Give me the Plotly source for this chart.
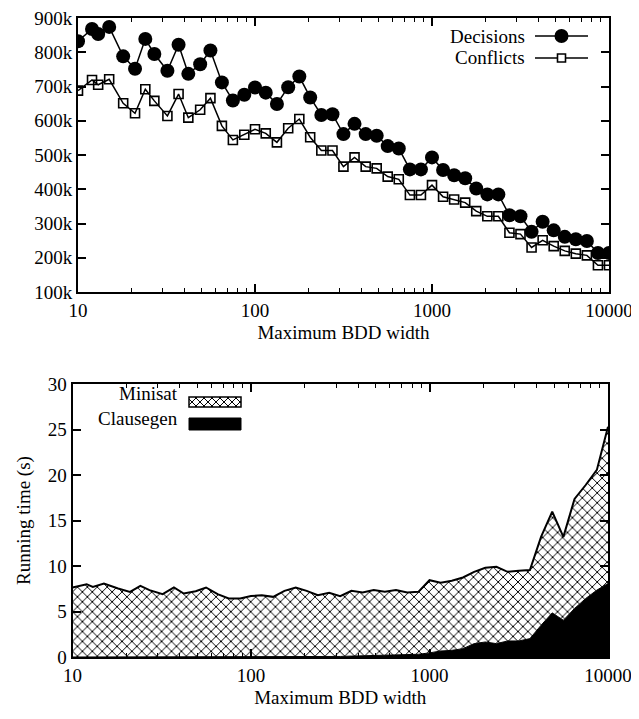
import plotly.graph_objects as go

# ---------------- data ----------------
widths = [10, 12, 13, 15, 18, 21, 24, 27, 32, 37, 42, 49, 56, 65, 75, 87,
          100, 115, 133, 154, 178, 205, 237, 274, 316, 365, 422, 487, 562, 649, 750, 866,
          1000, 1155, 1334, 1540, 1778, 2054, 2371, 2738, 3162, 3652, 4217, 4870, 5623, 6494, 7499, 8660,
          10000]

decisions_k = [832, 868, 853, 874, 788, 752, 839, 795, 746, 822, 737, 765, 805, 712, 659, 676,
               697, 682, 649, 698, 729, 668, 617, 619, 561, 591, 561, 556, 526, 519, 458, 458,
               493, 456, 441, 432, 402, 385, 385, 324, 321, 276, 305, 280, 261, 254, 249, 214,
               214]

conflicts_k = [688, 719, 705, 721, 651, 622, 692, 658, 614, 678, 609, 632, 666, 585, 544, 559,
               575, 563, 537, 578, 605, 552, 513, 513, 466, 493, 466, 461, 437, 429, 383, 383,
               412, 378, 370, 361, 336, 321, 321, 273, 269, 230, 251, 234, 220, 212, 207, 178,
               178]

total_time = [7.64, 8.0, 7.7, 8.08, 7.53, 7.16, 7.82, 7.35, 6.9, 7.64, 6.98, 7.23, 7.64, 6.9, 6.43, 6.43,
              6.7, 6.79, 6.61, 7.27, 7.64, 7.27, 6.79, 7.05, 6.68, 7.27, 7.09, 7.35, 7.16, 7.35, 7.09, 7.16,
              8.44, 8.17, 8.37, 8.74, 9.36, 9.8, 9.91, 9.36, 9.47, 9.55, 13.2, 15.97, 13.2, 17.37, 18.9, 20.56,
              25.3]

clausegen_time = [0.0, 0.0, 0.0, 0.0, 0.0, 0.0, 0.0, 0.0, 0.0, 0.0, 0.0, 0.0, 0.0, 0.0, 0.02, 0.02,
                  0.02, 0.02, 0.04, 0.04, 0.04, 0.04, 0.06, 0.06, 0.06, 0.1, 0.12, 0.15, 0.18, 0.22, 0.26, 0.3,
                  0.45, 0.66, 0.73, 0.92, 1.47, 1.65, 1.47, 1.76, 1.76, 2.02, 3.49, 4.85, 4.04, 5.33, 6.43, 7.35,
                  8.08]

top_yticks = [100000, 200000, 300000, 400000, 500000, 600000, 700000, 800000, 900000]
top_yticktext = ["100k", "200k", "300k", "400k", "500k", "600k", "700k", "800k", "900k"]
x_major = [10, 100, 1000, 10000]
x_major_text = ["10", "100", "1000", "10000"]
x_minor = [20, 30, 40, 50, 60, 70, 80, 90, 200, 300, 400, 500, 600, 700, 800, 900,
           2000, 3000, 4000, 5000, 6000, 7000, 8000, 9000]

# ---------------- figure ----------------
# The page body has an 8px margin, so the figure is drawn 8px smaller and
# every layout position below is given in window pixels minus that offset.
OFF = 8
W, H = 639 - OFF, 719 - OFF
FONT = "Liberation Serif"
FS = 19


def px(v):
    return (v - OFF) / W


def py(v):
    return 1 - (v - OFF) / H


decisions = [v * 1000 for v in decisions_k]
conflicts = [v * 1000 for v in conflicts_k]

fig = go.Figure()
fig.add_trace(go.Scatter(x=widths, y=decisions, mode="lines+markers", name="Decisions",
                         line=dict(color="black", width=1.5),
                         marker=dict(symbol="circle", size=14, color="black"),
                         xaxis="x", yaxis="y"))
fig.add_trace(go.Scatter(x=widths, y=conflicts, mode="lines+markers", name="Conflicts",
                         line=dict(color="black", width=1.5),
                         marker=dict(symbol="square-open", size=9, color="black",
                                     line=dict(width=1.6, color="black")),
                         xaxis="x", yaxis="y"))
fig.add_trace(go.Scatter(x=widths, y=clausegen_time, mode="lines", name="Clausegen",
                         line=dict(color="black", width=1), fill="tozeroy", fillcolor="black",
                         xaxis="x2", yaxis="y2"))
fig.add_trace(go.Scatter(x=widths, y=total_time, mode="lines", name="Minisat",
                         line=dict(color="black", width=2), fill="tonexty", fillcolor="white",
                         fillpattern=dict(shape="x", size=7, solidity=0.26,
                                          fgcolor="black", bgcolor="white", fgopacity=1),
                         xaxis="x2", yaxis="y2"))

axis_common = dict(showline=True, linecolor="black", linewidth=2, mirror="ticks",
                   ticks="inside", ticklen=8, tickwidth=1.5, tickcolor="black",
                   showgrid=False, zeroline=False, automargin=False,
                   ticklabeloverflow="allow",
                   tickfont=dict(family=FONT, size=FS, color="black"))

xmajor = dict(type="log", range=[1, 4], tickmode="array", tickvals=x_major, ticktext=x_major_text,
              minor=dict(ticks="inside", ticklen=4, tickwidth=1, tickcolor="black",
                         tickmode="array", tickvals=x_minor, showgrid=False),
              title=dict(text="Maximum BDD width", font=dict(family=FONT, size=FS, color="black"),
                         standoff=6))

# ---- legend keys (decoration drawn in paper pixels) ----
shapes = []


def line_px(x0, y0, x1, y1, w=1.5):
    shapes.append(dict(type="line", xref="paper", yref="paper",
                       x0=px(x0), y0=py(y0), x1=px(x1), y1=py(y1),
                       line=dict(color="black", width=w)))


# top legend: Decisions / Conflicts
KX0, KX1 = 535, 588
KC = (KX0 + KX1) / 2
line_px(KX0, 36, KX1, 36)
shapes.append(dict(type="circle", xref="paper", yref="paper",
                   x0=px(KC - 7), x1=px(KC + 7), y0=py(36 + 7), y1=py(36 - 7),
                   fillcolor="black", line=dict(color="black", width=0)))
line_px(KX0, 58, KX1, 58)
shapes.append(dict(type="rect", xref="paper", yref="paper",
                   x0=px(KC - 4), x1=px(KC + 4), y0=py(58 + 4), y1=py(58 - 4),
                   fillcolor="white", line=dict(color="black", width=1.6)))


# bottom legend: Minisat (hatched) / Clausegen (solid)
def clip_segment(xa, ya, xb, yb, bx0, by0, bx1, by1):
    u0, u1 = 0.0, 1.0
    dx, dy = xb - xa, yb - ya
    for p, q in ((-dx, xa - bx0), (dx, bx1 - xa), (-dy, ya - by0), (dy, by1 - ya)):
        if p == 0:
            if q < 0:
                return None
            continue
        r = q / p
        if p < 0:
            u0 = max(u0, r)
        else:
            u1 = min(u1, r)
    if u0 > u1:
        return None
    return (xa + u0 * dx, ya + u0 * dy, xa + u1 * dx, ya + u1 * dy)


BX0, BX1 = 189, 241
MY0, MY1 = 397, 407
hatch = []
step = 8
t = -(MY1 - MY0)
while t < (BX1 - BX0) + (MY1 - MY0):
    for seg in ((BX0 + t, MY0, BX0 + t + (MY1 - MY0), MY1),
                (BX0 + t, MY1, BX0 + t + (MY1 - MY0), MY0)):
        c = clip_segment(*seg, BX0, MY0, BX1, MY1)
        if c:
            hatch.append("M%.5f,%.5f L%.5f,%.5f" % (px(c[0]), py(c[1]), px(c[2]), py(c[3])))
    t += step
shapes.append(dict(type="path", xref="paper", yref="paper", path=" ".join(hatch),
                   line=dict(color="black", width=1)))
shapes.append(dict(type="rect", xref="paper", yref="paper",
                   x0=px(BX0), x1=px(BX1), y0=py(MY1), y1=py(MY0),
                   line=dict(color="black", width=1.5)))
shapes.append(dict(type="rect", xref="paper", yref="paper",
                   x0=px(BX0), x1=px(BX1), y0=py(430), y1=py(418),
                   fillcolor="black", line=dict(color="black", width=1)))


def label(text, x, y):
    return dict(text=text, x=px(x), y=py(y), xref="paper", yref="paper",
                xanchor="right", yanchor="middle", showarrow=False,
                font=dict(family=FONT, size=FS, color="black"))


fig.update_layout(
    width=W, height=H, margin=dict(l=0, r=0, t=0, b=0),
    paper_bgcolor="white", plot_bgcolor="white",
    font=dict(family=FONT, size=FS, color="black"),
    showlegend=False,
    xaxis=dict(**axis_common, **xmajor, domain=[px(78), px(609)], anchor="y"),
    yaxis=dict(**axis_common, range=[100000, 900000], tickmode="array",
               tickvals=top_yticks, ticktext=top_yticktext,
               domain=[py(292), py(18)], anchor="x"),
    xaxis2=dict(**axis_common, **xmajor, domain=[px(72.5), px(608)], anchor="y2"),
    yaxis2=dict(**axis_common, range=[0, 30], tickmode="linear", tick0=0, dtick=5,
                title=dict(text="Running time (s)", font=dict(family=FONT, size=FS, color="black"),
                           standoff=12),
                domain=[py(657), py(384)], anchor="x2"),
    shapes=shapes,
    annotations=[
        label("Decisions", 527, 36),
        label("Conflicts", 527, 58),
        label("Minisat", 180, 393),
        label("Clausegen", 180, 418),
    ],
)

fig.write_html("out.html")
